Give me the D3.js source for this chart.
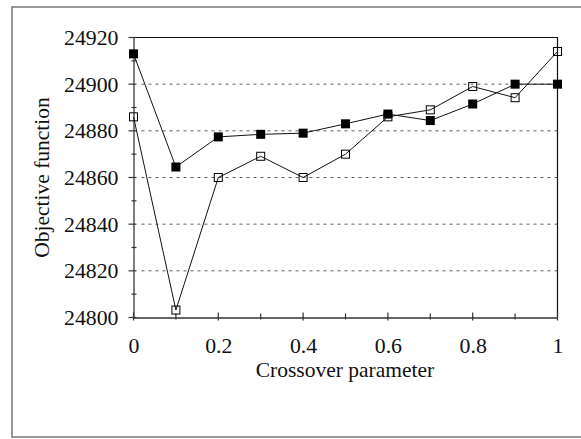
<!DOCTYPE html>
<html>
<head>
<meta charset="utf-8">
<script src="https://cdn.jsdelivr.net/npm/d3@7"></script>
<style>
  html, body { margin: 0; padding: 0; background: #fff; overflow: hidden; }
  svg { display: block; }
</style>
</head>
<body>
<svg id="chart" width="581" height="439"></svg>
<script>
// Crossover parameter values (x axis)
const crossover = [0, 0.1, 0.2, 0.3, 0.4, 0.5, 0.6, 0.7, 0.8, 0.9, 1.0];
// Series drawn with filled squares
const filledSeries = [24913, 24864.5, 24877.4, 24878.5, 24879, 24883, 24887.2, 24884.4, 24891.5, 24900, 24900];
// Series drawn with open squares
const openSeries = [24886, 24803.2, 24860, 24869.1, 24860, 24870, 24886, 24889, 24899, 24894.2, 24914];
// Tick values
const xTicks = [0, 0.2, 0.4, 0.6, 0.8, 1];
const xMinorTicks = [0.1, 0.3, 0.5, 0.7, 0.9];
const yTicks = [24800, 24820, 24840, 24860, 24880, 24900, 24920];
const yMinorTicks = [24810, 24830, 24850, 24870, 24890, 24910];
const gridValues = [24820, 24840, 24860, 24880, 24900];

const FONT = "Liberation Serif";
const TICK_FS = "21.8px";
const TITLE_FS = "21.5px";

const svg = d3.select("#chart");

// Outer frame (its right edge runs past the canvas)
svg.append("rect")
  .attr("x", 12).attr("y", 7).attr("width", 580).attr("height", 430)
  .attr("fill", "none").attr("stroke", "#777").attr("stroke-width", 1.5);

const plotL = 133.5, plotT = 37.5, plotR = 557.5, plotB = 317.5;
const x = d3.scaleLinear().domain([0, 1]).range([plotL, plotR]);
const y = d3.scaleLinear().domain([24800, 24920]).range([plotB, plotT]);

// Dashed horizontal grid
svg.append("g").selectAll("line").data(gridValues).join("line")
  .attr("x1", plotL + 8).attr("x2", plotR)
  .attr("y1", d => y(d)).attr("y2", d => y(d))
  .attr("stroke", "#333").attr("stroke-width", 0.8)
  .attr("stroke-dasharray", "3,4");

// Top and right box edges
svg.append("path")
  .attr("d", `M${plotL},${plotT}H${plotR}V${plotB}`)
  .attr("fill", "none").attr("stroke", "#111").attr("stroke-width", 1.2);

// Axes
const xAxis = d3.axisBottom(x).tickValues(xTicks).tickFormat(d3.format("")).tickSize(0).tickPadding(20);
const gx = svg.append("g").attr("transform", `translate(0,${plotB})`).call(xAxis);
gx.select(".domain").attr("stroke", "#333").attr("stroke-width", 1.5);
gx.selectAll("text").style("font-size", TICK_FS).style("font-family", FONT).attr("fill", "#111");

const yAxis = d3.axisLeft(y).tickValues(yTicks).tickFormat(d3.format("d")).tickSize(0).tickPadding(15);
const gy = svg.append("g").attr("transform", `translate(${plotL},0)`).call(yAxis);
gy.select(".domain").attr("stroke", "#555").attr("stroke-width", 1.5);
gy.selectAll("text").style("font-size", TICK_FS).style("font-family", FONT).attr("fill", "#111");

// Crossing tick marks
svg.append("g").selectAll("line").data(xTicks.concat(xMinorTicks)).join("line")
  .attr("x1", d => x(d)).attr("x2", d => x(d))
  .attr("y1", d => xTicks.includes(d) ? plotB - 5 : plotB - 4)
  .attr("y2", d => xTicks.includes(d) ? plotB + 3 : plotB + 2)
  .attr("stroke", "#333").attr("stroke-width", 1.2);
svg.append("g").selectAll("line").data(yTicks.concat(yMinorTicks)).join("line")
  .attr("x1", d => yTicks.includes(d) ? plotL - 5 : plotL - 2)
  .attr("x2", d => yTicks.includes(d) ? plotL + 3 : plotL + 3)
  .attr("y1", d => y(d)).attr("y2", d => y(d))
  .attr("stroke", "#333").attr("stroke-width", 1.2);

// Axis titles
svg.append("text").attr("x", 345).attr("y", 377).attr("text-anchor", "middle")
  .style("font-size", TITLE_FS).style("font-family", FONT).attr("fill", "#111")
  .text("Crossover parameter");
svg.append("text").attr("transform", `translate(49,${(plotT + plotB) / 2}) rotate(-90)`)
  .attr("text-anchor", "middle")
  .style("font-size", TITLE_FS).style("font-family", FONT).attr("fill", "#111")
  .text("Objective function");

// Lines and markers
const line = d3.line().x((d, i) => x(crossover[i])).y(d => y(d));
function drawSeries(values, filled) {
  svg.append("path").datum(values).attr("d", line)
    .attr("fill", "none").attr("stroke", "#111").attr("stroke-width", 1);
  const s = filled ? 9 : 8;
  svg.append("g").selectAll("rect").data(values).join("rect")
    .attr("x", (d, i) => x(crossover[i]) - s / 2)
    .attr("y", d => y(d) - s / 2)
    .attr("width", s).attr("height", s)
    .attr("fill", filled ? "#000" : "none")
    .attr("stroke", "#000").attr("stroke-width", filled ? 0 : 1);
}
drawSeries(openSeries, false);
drawSeries(filledSeries, true);
</script>
</body>
</html>
